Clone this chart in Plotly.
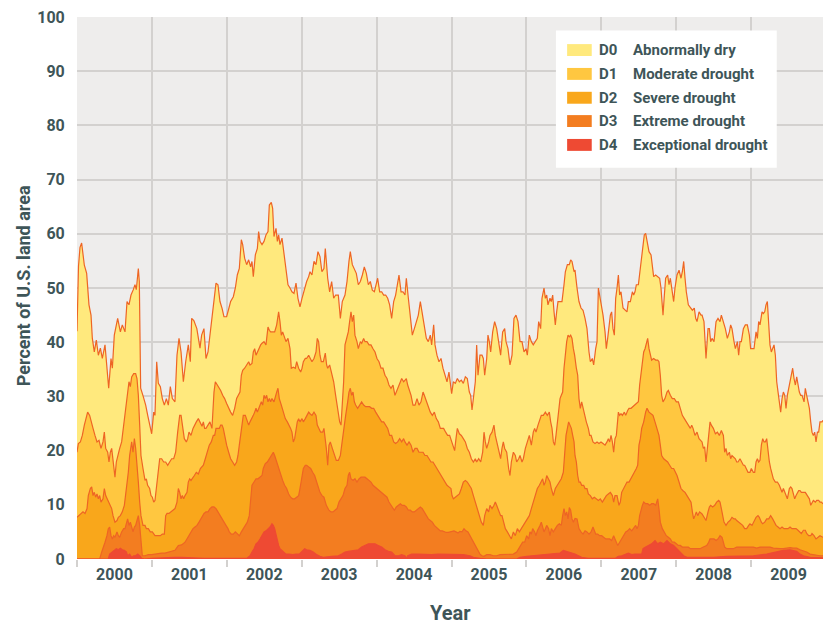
import plotly.graph_objects as go

# U.S. Drought Monitor, weekly share of land area in each drought category or worse
# (cumulative: D0 = D0-D4, D1 = D1-D4, ...). Time is given as decimal year.
d0 = [
    (2000.000, 42.0), (2000.020, 54.0), (2000.040, 57.5), (2000.062, 58.3), (2000.098, 54.2),
    (2000.129, 52.7), (2000.160, 46.9), (2000.187, 45.0), (2000.205, 40.7), (2000.231, 38.2),
    (2000.258, 40.4), (2000.285, 37.6), (2000.312, 38.9), (2000.338, 37.0), (2000.374, 39.5),
    (2000.400, 35.2), (2000.423, 31.5), (2000.454, 37.0), (2000.472, 35.2), (2000.498, 41.3),
    (2000.543, 44.4), (2000.579, 41.9), (2000.605, 43.2), (2000.641, 41.9), (2000.668, 47.5),
    (2000.694, 46.9), (2000.721, 48.7), (2000.752, 49.7), (2000.774, 50.6), (2000.792, 49.7),
    (2000.819, 53.6), (2000.832, 51.2), (2000.850, 31.5), (2000.886, 29.9), (2000.917, 28.4),
    (2000.944, 26.5), (2000.975, 24.1), (2000.997, 23.1), (2001.024, 27.1), (2001.041, 26.5),
    (2001.064, 36.4), (2001.086, 32.4), (2001.113, 31.8), (2001.139, 29.6), (2001.166, 28.4),
    (2001.193, 29.6), (2001.219, 28.4), (2001.246, 31.8), (2001.273, 29.6), (2001.308, 29.0),
    (2001.335, 37.6), (2001.362, 40.7), (2001.389, 38.2), (2001.420, 32.7), (2001.451, 36.4),
    (2001.486, 39.5), (2001.513, 36.4), (2001.531, 44.4), (2001.560, 44.0), (2001.600, 42.5),
    (2001.642, 38.9), (2001.664, 41.3), (2001.695, 42.5), (2001.722, 37.0), (2001.749, 38.2),
    (2001.766, 40.1), (2001.797, 43.8), (2001.829, 46.9), (2001.856, 50.9), (2001.882, 50.6),
    (2001.909, 47.5), (2001.936, 46.3), (2001.962, 44.7), (2001.998, 44.7), (2002.025, 46.3),
    (2002.051, 47.5), (2002.087, 48.4), (2002.114, 50.0), (2002.140, 52.4), (2002.167, 53.6),
    (2002.194, 58.9), (2002.212, 58.0), (2002.238, 55.5), (2002.265, 54.3), (2002.292, 55.2),
    (2002.318, 53.9), (2002.336, 54.9), (2002.354, 52.1), (2002.381, 56.1), (2002.408, 57.3),
    (2002.425, 60.4), (2002.443, 58.6), (2002.470, 58.0), (2002.497, 58.6), (2002.523, 59.8),
    (2002.550, 60.4), (2002.568, 65.3), (2002.594, 65.8), (2002.612, 64.7), (2002.630, 59.5),
    (2002.657, 61.0), (2002.675, 58.6), (2002.692, 59.8), (2002.710, 58.0), (2002.737, 59.2),
    (2002.764, 56.1), (2002.790, 53.6), (2002.817, 50.6), (2002.844, 50.0), (2002.870, 49.3),
    (2002.897, 49.0), (2002.924, 50.9), (2002.950, 48.1), (2002.977, 46.5), (2003.004, 48.1),
    (2003.040, 50.0), (2003.066, 51.2), (2003.093, 52.1), (2003.111, 53.0), (2003.137, 52.4),
    (2003.164, 54.9), (2003.191, 54.3), (2003.217, 56.7), (2003.244, 55.8), (2003.270, 53.0),
    (2003.297, 53.6), (2003.315, 57.3), (2003.347, 51.8), (2003.373, 49.3), (2003.400, 51.2),
    (2003.427, 48.1), (2003.453, 48.7), (2003.489, 48.7), (2003.516, 44.4), (2003.542, 47.5),
    (2003.578, 48.7), (2003.605, 51.2), (2003.631, 54.9), (2003.649, 56.7), (2003.676, 54.3),
    (2003.703, 53.3), (2003.729, 52.7), (2003.756, 50.6), (2003.783, 51.2), (2003.810, 52.4),
    (2003.836, 53.9), (2003.863, 52.7), (2003.890, 50.6), (2003.916, 51.2), (2003.943, 49.6),
    (2003.970, 49.3), (2004.014, 51.8), (2004.041, 49.3), (2004.068, 49.3), (2004.094, 48.7),
    (2004.121, 48.7), (2004.148, 48.1), (2004.174, 46.9), (2004.201, 44.4), (2004.228, 47.5),
    (2004.254, 48.7), (2004.281, 50.6), (2004.299, 52.4), (2004.326, 49.3), (2004.352, 49.3),
    (2004.379, 48.7), (2004.397, 51.8), (2004.424, 48.1), (2004.450, 44.4), (2004.477, 41.3),
    (2004.504, 42.5), (2004.530, 43.8), (2004.557, 45.0), (2004.584, 47.5), (2004.610, 45.0),
    (2004.637, 42.5), (2004.664, 40.7), (2004.690, 40.1), (2004.717, 41.3), (2004.735, 39.5),
    (2004.762, 43.2), (2004.780, 39.5), (2004.806, 37.6), (2004.833, 36.4), (2004.860, 37.0),
    (2004.886, 35.2), (2004.913, 33.9), (2004.940, 32.7), (2004.966, 34.5), (2004.993, 32.1),
    (2005.002, 30.5), (2005.025, 32.7), (2005.051, 32.4), (2005.078, 33.3), (2005.105, 32.7),
    (2005.131, 33.0), (2005.158, 32.4), (2005.185, 33.6), (2005.211, 33.3), (2005.238, 30.8),
    (2005.256, 30.2), (2005.274, 27.5), (2005.300, 30.2), (2005.318, 32.7), (2005.336, 39.5),
    (2005.354, 33.9), (2005.380, 37.6), (2005.407, 37.6), (2005.425, 37.0), (2005.443, 33.9),
    (2005.470, 37.0), (2005.487, 41.3), (2005.505, 40.1), (2005.523, 38.2), (2005.550, 41.9),
    (2005.576, 43.8), (2005.603, 42.5), (2005.630, 39.5), (2005.656, 37.6), (2005.683, 41.9),
    (2005.710, 42.5), (2005.728, 40.1), (2005.754, 38.8), (2005.781, 35.8), (2005.808, 37.6),
    (2005.834, 44.4), (2005.861, 45.0), (2005.888, 43.8), (2005.915, 40.1), (2005.941, 40.1),
    (2005.968, 38.2), (2005.995, 38.8), (2006.012, 37.6), (2006.039, 41.3), (2006.066, 40.1),
    (2006.092, 39.5), (2006.119, 40.1), (2006.146, 40.7), (2006.164, 43.8), (2006.190, 42.5),
    (2006.208, 48.1), (2006.235, 50.0), (2006.253, 48.1), (2006.271, 48.7), (2006.288, 46.9),
    (2006.315, 48.1), (2006.333, 47.5), (2006.351, 48.7), (2006.369, 45.6), (2006.386, 43.2),
    (2006.404, 45.6), (2006.422, 47.5), (2006.449, 47.5), (2006.475, 47.5), (2006.502, 50.6),
    (2006.520, 53.0), (2006.547, 54.3), (2006.573, 54.3), (2006.591, 55.2), (2006.609, 54.9),
    (2006.636, 53.0), (2006.649, 53.3), (2006.676, 50.0), (2006.702, 47.5), (2006.729, 46.3),
    (2006.756, 45.9), (2006.783, 44.4), (2006.809, 42.5), (2006.836, 38.2), (2006.854, 36.4),
    (2006.880, 37.0), (2006.898, 35.8), (2006.925, 38.8), (2006.943, 40.1), (2006.961, 50.0),
    (2006.978, 48.7), (2006.996, 46.9), (2007.023, 45.0), (2007.050, 41.9), (2007.067, 38.8),
    (2007.085, 40.7), (2007.103, 42.5), (2007.121, 45.0), (2007.138, 45.6), (2007.156, 42.5),
    (2007.174, 41.3), (2007.192, 48.1), (2007.210, 50.0), (2007.228, 52.4), (2007.245, 48.7),
    (2007.263, 49.3), (2007.290, 46.3), (2007.317, 45.9), (2007.343, 45.6), (2007.361, 47.5),
    (2007.388, 47.5), (2007.415, 49.3), (2007.432, 48.7), (2007.450, 49.3), (2007.468, 50.6),
    (2007.495, 50.6), (2007.512, 52.4), (2007.530, 54.9), (2007.557, 58.0), (2007.574, 59.8),
    (2007.592, 60.1), (2007.610, 58.6), (2007.637, 56.7), (2007.664, 56.1), (2007.681, 53.6),
    (2007.699, 52.1), (2007.726, 52.4), (2007.753, 52.1), (2007.779, 51.8), (2007.797, 50.0),
    (2007.824, 45.0), (2007.842, 48.7), (2007.859, 51.8), (2007.886, 52.4), (2007.904, 50.6),
    (2007.922, 51.8), (2007.948, 48.7), (2007.966, 47.5), (2007.984, 50.0), (2008.011, 52.4),
    (2008.038, 53.3), (2008.064, 51.8), (2008.082, 53.0), (2008.100, 54.9), (2008.118, 51.8),
    (2008.135, 49.3), (2008.162, 46.9), (2008.189, 46.3), (2008.216, 45.9), (2008.242, 46.3),
    (2008.260, 44.4), (2008.278, 43.8), (2008.305, 45.6), (2008.331, 45.0), (2008.345, 45.0),
    (2008.371, 43.8), (2008.398, 37.0), (2008.425, 42.5), (2008.443, 42.5), (2008.460, 40.1),
    (2008.478, 40.7), (2008.505, 40.1), (2008.532, 43.8), (2008.558, 44.4), (2008.585, 43.8),
    (2008.603, 45.0), (2008.630, 43.8), (2008.656, 42.5), (2008.683, 40.7), (2008.710, 41.9),
    (2008.727, 43.2), (2008.745, 42.5), (2008.772, 40.1), (2008.790, 38.8), (2008.817, 40.1),
    (2008.834, 37.6), (2008.852, 40.1), (2008.870, 40.1), (2008.897, 42.5), (2008.923, 43.2),
    (2008.950, 43.2), (2008.977, 41.3), (2008.994, 38.8), (2009.021, 38.8), (2009.039, 38.8),
    (2009.066, 41.9), (2009.084, 40.7), (2009.101, 43.8), (2009.119, 43.2), (2009.146, 45.6),
    (2009.164, 45.3), (2009.182, 45.6), (2009.199, 46.9), (2009.217, 47.5), (2009.235, 43.8),
    (2009.252, 39.5), (2009.270, 38.2), (2009.288, 38.8), (2009.306, 39.5), (2009.324, 37.6),
    (2009.342, 32.7), (2009.360, 30.8), (2009.377, 29.0), (2009.395, 27.1), (2009.413, 29.6),
    (2009.431, 30.8), (2009.449, 30.2), (2009.466, 27.8), (2009.484, 30.2), (2009.502, 31.5),
    (2009.520, 32.7), (2009.537, 34.5), (2009.555, 35.2), (2009.573, 33.3), (2009.591, 32.1),
    (2009.609, 33.6), (2009.626, 32.1), (2009.644, 30.8), (2009.662, 30.2), (2009.680, 30.2),
    (2009.707, 29.0), (2009.724, 31.5), (2009.742, 30.2), (2009.760, 29.0), (2009.778, 27.8),
    (2009.796, 25.3), (2009.813, 23.4), (2009.831, 22.8), (2009.849, 23.4), (2009.867, 21.6),
    (2009.885, 23.4), (2009.902, 23.4), (2009.920, 25.3), (2009.947, 25.3), (2009.960, 25.6),
]

d1 = [
    (2000.000, 19.7), (2000.018, 21.3), (2000.045, 21.6), (2000.071, 22.8), (2000.098, 24.7),
    (2000.125, 26.5), (2000.142, 27.1), (2000.169, 26.5), (2000.187, 25.3), (2000.214, 24.1),
    (2000.240, 22.8), (2000.267, 21.6), (2000.294, 21.9), (2000.320, 20.4), (2000.347, 21.6),
    (2000.365, 23.4), (2000.383, 20.4), (2000.410, 19.7), (2000.427, 17.9), (2000.445, 19.7),
    (2000.463, 20.4), (2000.481, 18.5), (2000.507, 15.1), (2000.525, 17.9), (2000.543, 19.1),
    (2000.570, 20.4), (2000.596, 21.6), (2000.623, 24.7), (2000.650, 27.1), (2000.676, 30.2),
    (2000.694, 32.7), (2000.712, 31.8), (2000.730, 33.6), (2000.757, 34.2), (2000.783, 34.2),
    (2000.801, 33.3), (2000.819, 30.2), (2000.837, 24.7), (2000.854, 19.1), (2000.881, 16.7),
    (2000.908, 14.5), (2000.926, 14.8), (2000.943, 13.6), (2000.970, 13.0), (2000.988, 11.7),
    (2001.006, 11.4), (2001.024, 10.5), (2001.041, 10.8), (2001.059, 13.0), (2001.077, 14.2),
    (2001.104, 18.5), (2001.130, 18.5), (2001.157, 17.9), (2001.184, 17.9), (2001.211, 17.3),
    (2001.237, 17.9), (2001.264, 18.5), (2001.291, 18.5), (2001.317, 19.7), (2001.344, 23.4),
    (2001.371, 26.5), (2001.389, 26.5), (2001.406, 24.7), (2001.433, 22.2), (2001.460, 21.6),
    (2001.478, 22.2), (2001.495, 23.4), (2001.522, 22.8), (2001.549, 24.1), (2001.567, 24.7),
    (2001.593, 25.3), (2001.620, 25.9), (2001.647, 25.0), (2001.669, 24.5), (2001.687, 25.3),
    (2001.704, 24.1), (2001.722, 24.1), (2001.749, 24.7), (2001.775, 25.3), (2001.802, 24.1),
    (2001.829, 30.8), (2001.847, 32.7), (2001.873, 32.1), (2001.891, 31.5), (2001.918, 31.1),
    (2001.945, 30.2), (2001.971, 29.6), (2001.998, 28.7), (2002.025, 27.8), (2002.051, 27.1),
    (2002.078, 26.5), (2002.105, 27.8), (2002.131, 29.6), (2002.158, 30.2), (2002.176, 30.8),
    (2002.194, 33.9), (2002.212, 34.8), (2002.238, 35.2), (2002.265, 35.8), (2002.292, 36.4),
    (2002.310, 35.8), (2002.336, 36.1), (2002.354, 38.2), (2002.372, 38.8), (2002.390, 37.6),
    (2002.408, 38.2), (2002.434, 38.8), (2002.452, 39.5), (2002.470, 39.8), (2002.497, 40.1),
    (2002.523, 39.5), (2002.550, 42.8), (2002.568, 42.2), (2002.585, 41.9), (2002.612, 41.9),
    (2002.639, 41.9), (2002.666, 43.2), (2002.692, 45.6), (2002.710, 43.8), (2002.728, 41.3),
    (2002.746, 41.9), (2002.772, 40.7), (2002.790, 40.1), (2002.817, 40.7), (2002.844, 38.8),
    (2002.861, 35.2), (2002.888, 35.4), (2002.915, 35.2), (2002.933, 36.4), (2002.959, 35.2),
    (2002.986, 34.5), (2003.004, 35.2), (2003.022, 36.4), (2003.048, 37.0), (2003.066, 37.0),
    (2003.093, 37.6), (2003.120, 37.0), (2003.137, 36.4), (2003.164, 37.0), (2003.191, 38.2),
    (2003.208, 40.7), (2003.226, 40.1), (2003.244, 37.6), (2003.262, 36.4), (2003.289, 36.4),
    (2003.315, 38.0), (2003.333, 35.8), (2003.347, 35.2), (2003.373, 35.8), (2003.400, 34.5),
    (2003.427, 32.7), (2003.453, 30.2), (2003.480, 27.8), (2003.507, 25.3), (2003.525, 24.7),
    (2003.542, 27.8), (2003.560, 32.7), (2003.578, 39.5), (2003.596, 40.7), (2003.622, 41.9),
    (2003.640, 43.8), (2003.658, 45.6), (2003.676, 43.8), (2003.694, 45.0), (2003.711, 41.3),
    (2003.738, 40.1), (2003.756, 38.8), (2003.783, 40.1), (2003.801, 39.8), (2003.827, 40.7),
    (2003.845, 40.1), (2003.872, 40.1), (2003.899, 39.5), (2003.925, 39.5), (2003.952, 38.8),
    (2003.979, 38.2), (2004.005, 37.0), (2004.032, 36.4), (2004.059, 35.2), (2004.085, 35.2),
    (2004.112, 33.9), (2004.139, 33.3), (2004.165, 32.1), (2004.192, 31.5), (2004.219, 32.1),
    (2004.245, 30.2), (2004.263, 30.8), (2004.290, 31.8), (2004.317, 32.7), (2004.335, 33.3),
    (2004.361, 32.7), (2004.379, 33.0), (2004.397, 33.3), (2004.415, 32.1), (2004.432, 31.5),
    (2004.460, 30.2), (2004.486, 28.4), (2004.513, 28.4), (2004.540, 29.6), (2004.566, 28.4),
    (2004.593, 29.0), (2004.620, 30.8), (2004.637, 30.2), (2004.664, 29.0), (2004.691, 27.8),
    (2004.717, 27.1), (2004.744, 26.5), (2004.771, 27.1), (2004.797, 25.9), (2004.824, 25.3),
    (2004.851, 24.1), (2004.877, 24.1), (2004.895, 24.1), (2004.922, 23.4), (2004.948, 22.8),
    (2004.975, 22.8), (2005.002, 21.6), (2005.025, 20.4), (2005.042, 20.0), (2005.060, 22.2),
    (2005.078, 24.1), (2005.105, 23.1), (2005.131, 22.8), (2005.158, 22.2), (2005.185, 21.6),
    (2005.211, 20.4), (2005.238, 19.7), (2005.265, 18.5), (2005.292, 17.9), (2005.318, 18.5),
    (2005.336, 17.9), (2005.363, 18.5), (2005.390, 17.9), (2005.416, 19.7), (2005.434, 23.4),
    (2005.452, 21.6), (2005.470, 20.4), (2005.496, 21.6), (2005.514, 22.8), (2005.541, 23.4),
    (2005.567, 24.7), (2005.585, 22.8), (2005.612, 21.0), (2005.639, 19.1), (2005.656, 18.5),
    (2005.674, 20.4), (2005.692, 21.6), (2005.710, 20.4), (2005.737, 19.7), (2005.763, 16.7),
    (2005.781, 15.4), (2005.799, 17.9), (2005.826, 19.7), (2005.852, 19.1), (2005.870, 17.9),
    (2005.897, 18.5), (2005.915, 19.1), (2005.941, 17.9), (2005.959, 18.5), (2005.986, 20.4),
    (2006.012, 21.6), (2006.039, 22.8), (2006.066, 21.0), (2006.092, 23.4), (2006.110, 24.1),
    (2006.128, 23.4), (2006.155, 24.7), (2006.173, 25.3), (2006.199, 26.5), (2006.226, 26.5),
    (2006.253, 27.1), (2006.279, 26.5), (2006.306, 27.1), (2006.324, 25.3), (2006.342, 24.1),
    (2006.360, 21.6), (2006.378, 21.0), (2006.395, 22.8), (2006.413, 25.3), (2006.431, 27.8),
    (2006.449, 29.6), (2006.466, 30.2), (2006.484, 30.8), (2006.502, 35.2), (2006.520, 38.2),
    (2006.538, 40.1), (2006.556, 41.3), (2006.573, 41.0), (2006.591, 41.3), (2006.609, 40.7),
    (2006.627, 38.8), (2006.644, 37.6), (2006.667, 35.2), (2006.685, 33.9), (2006.702, 29.6),
    (2006.720, 27.8), (2006.738, 29.0), (2006.756, 27.8), (2006.774, 26.5), (2006.800, 25.3),
    (2006.827, 24.1), (2006.845, 22.8), (2006.863, 22.8), (2006.889, 21.6), (2006.916, 21.3),
    (2006.943, 21.6), (2006.969, 21.3), (2006.996, 21.6), (2007.023, 21.3), (2007.050, 21.0),
    (2007.076, 21.6), (2007.094, 22.2), (2007.112, 21.6), (2007.130, 22.8), (2007.148, 21.6),
    (2007.165, 19.7), (2007.183, 22.2), (2007.201, 22.8), (2007.228, 27.1), (2007.245, 26.5),
    (2007.263, 26.8), (2007.281, 26.5), (2007.308, 27.1), (2007.326, 26.5), (2007.352, 27.4),
    (2007.370, 27.8), (2007.397, 27.8), (2007.424, 28.1), (2007.450, 28.4), (2007.477, 28.7),
    (2007.495, 29.0), (2007.512, 32.1), (2007.530, 34.5), (2007.548, 36.4), (2007.566, 38.2),
    (2007.584, 38.8), (2007.601, 39.8), (2007.619, 40.7), (2007.637, 38.8), (2007.655, 37.6),
    (2007.672, 36.7), (2007.699, 37.0), (2007.726, 36.7), (2007.753, 36.7), (2007.770, 36.4),
    (2007.788, 33.9), (2007.806, 30.2), (2007.824, 29.0), (2007.850, 29.6), (2007.877, 30.8),
    (2007.895, 31.1), (2007.922, 30.2), (2007.948, 29.6), (2007.975, 29.6), (2008.002, 29.0),
    (2008.029, 29.0), (2008.055, 27.8), (2008.082, 26.5), (2008.109, 25.9), (2008.135, 25.3),
    (2008.162, 24.7), (2008.189, 24.1), (2008.207, 24.7), (2008.225, 24.1), (2008.251, 22.8),
    (2008.278, 23.4), (2008.305, 22.2), (2008.345, 21.6), (2008.363, 20.4), (2008.380, 20.7),
    (2008.398, 17.9), (2008.416, 20.4), (2008.434, 22.2), (2008.452, 25.3), (2008.469, 24.7),
    (2008.496, 24.1), (2008.523, 23.1), (2008.550, 23.4), (2008.576, 22.8), (2008.603, 23.7),
    (2008.630, 22.8), (2008.647, 19.7), (2008.665, 20.4), (2008.683, 19.1), (2008.710, 19.7),
    (2008.727, 18.5), (2008.745, 19.1), (2008.763, 18.8), (2008.790, 18.5), (2008.808, 17.9),
    (2008.825, 17.9), (2008.852, 18.5), (2008.879, 17.9), (2008.897, 17.3), (2008.914, 17.3),
    (2008.932, 16.7), (2008.959, 16.0), (2008.985, 16.0), (2009.003, 16.7), (2009.030, 16.0),
    (2009.048, 16.0), (2009.066, 17.9), (2009.084, 18.5), (2009.101, 17.9), (2009.119, 18.2),
    (2009.137, 21.0), (2009.155, 22.2), (2009.173, 21.6), (2009.190, 21.6), (2009.208, 22.2),
    (2009.226, 19.7), (2009.244, 17.9), (2009.261, 16.7), (2009.279, 15.4), (2009.297, 14.8),
    (2009.324, 14.2), (2009.351, 14.2), (2009.377, 13.6), (2009.395, 13.0), (2009.413, 12.3),
    (2009.431, 13.0), (2009.449, 12.3), (2009.466, 11.7), (2009.484, 11.1), (2009.511, 13.0),
    (2009.529, 13.3), (2009.546, 13.0), (2009.564, 12.0), (2009.582, 11.1), (2009.600, 11.7),
    (2009.618, 12.3), (2009.635, 12.6), (2009.653, 12.6), (2009.671, 12.3), (2009.698, 12.3),
    (2009.724, 12.3), (2009.751, 11.7), (2009.778, 11.1), (2009.796, 9.9), (2009.813, 10.5),
    (2009.831, 10.8), (2009.858, 10.5), (2009.876, 10.8), (2009.902, 10.8), (2009.920, 10.5),
    (2009.938, 10.5), (2009.960, 10.2),
]

d2 = [
    (2000.000, 7.7), (2000.027, 8.0), (2000.053, 8.4), (2000.080, 8.7), (2000.107, 8.4),
    (2000.134, 9.3), (2000.151, 11.7), (2000.178, 13.0), (2000.196, 13.3), (2000.214, 11.7),
    (2000.231, 12.3), (2000.249, 11.4), (2000.267, 12.0), (2000.285, 11.1), (2000.303, 11.7),
    (2000.320, 10.5), (2000.347, 11.1), (2000.365, 13.0), (2000.383, 11.7), (2000.401, 11.1),
    (2000.418, 10.5), (2000.445, 9.9), (2000.463, 9.3), (2000.481, 8.0), (2000.507, 6.8),
    (2000.534, 7.1), (2000.552, 7.7), (2000.579, 8.0), (2000.605, 8.7), (2000.632, 9.9),
    (2000.650, 11.7), (2000.668, 13.6), (2000.685, 16.0), (2000.703, 19.1), (2000.721, 21.0),
    (2000.730, 21.6), (2000.748, 19.7), (2000.766, 22.2), (2000.783, 20.4), (2000.801, 17.9),
    (2000.819, 14.2), (2000.837, 10.5), (2000.854, 8.0), (2000.881, 6.2), (2000.908, 6.2),
    (2000.926, 5.6), (2000.952, 5.6), (2000.979, 5.0), (2001.006, 5.0), (2001.041, 4.3),
    (2001.077, 4.3), (2001.113, 4.3), (2001.139, 4.6), (2001.166, 4.6), (2001.184, 8.0),
    (2001.202, 8.4), (2001.228, 8.4), (2001.255, 8.7), (2001.282, 9.0), (2001.308, 9.3),
    (2001.335, 10.5), (2001.353, 13.0), (2001.371, 12.3), (2001.389, 11.1), (2001.406, 11.7),
    (2001.424, 11.1), (2001.442, 11.7), (2001.469, 12.3), (2001.486, 14.2), (2001.504, 14.8),
    (2001.522, 14.5), (2001.540, 14.8), (2001.567, 15.4), (2001.593, 16.0), (2001.620, 15.7),
    (2001.647, 16.7), (2001.669, 17.0), (2001.687, 17.3), (2001.713, 18.5), (2001.740, 19.7),
    (2001.766, 21.0), (2001.793, 21.6), (2001.820, 22.8), (2001.838, 22.8), (2001.856, 24.1),
    (2001.882, 24.1), (2001.900, 24.1), (2001.918, 24.7), (2001.936, 24.7), (2001.953, 24.1),
    (2001.971, 22.8), (2001.998, 21.0), (2002.025, 19.7), (2002.051, 18.5), (2002.078, 17.9),
    (2002.105, 17.3), (2002.131, 17.9), (2002.149, 19.1), (2002.167, 21.0), (2002.185, 22.8),
    (2002.203, 24.7), (2002.220, 26.5), (2002.247, 26.5), (2002.265, 25.9), (2002.292, 24.7),
    (2002.310, 25.3), (2002.336, 25.9), (2002.354, 26.5), (2002.372, 27.1), (2002.390, 27.8),
    (2002.408, 27.1), (2002.425, 27.8), (2002.443, 28.4), (2002.461, 29.0), (2002.479, 28.4),
    (2002.497, 30.2), (2002.514, 29.6), (2002.532, 30.2), (2002.550, 29.0), (2002.568, 29.6),
    (2002.585, 29.0), (2002.603, 29.6), (2002.630, 29.0), (2002.648, 30.2), (2002.666, 30.8),
    (2002.683, 31.5), (2002.701, 29.6), (2002.728, 28.4), (2002.755, 27.1), (2002.781, 25.9),
    (2002.808, 25.3), (2002.835, 24.7), (2002.852, 24.1), (2002.870, 23.4), (2002.888, 21.6),
    (2002.906, 22.2), (2002.924, 24.1), (2002.941, 25.3), (2002.959, 25.9), (2002.977, 25.3),
    (2003.004, 25.9), (2003.022, 25.3), (2003.048, 25.9), (2003.066, 26.5), (2003.093, 27.1),
    (2003.111, 26.8), (2003.137, 26.5), (2003.164, 27.1), (2003.191, 26.5), (2003.208, 24.7),
    (2003.226, 24.1), (2003.253, 23.4), (2003.280, 23.4), (2003.297, 24.1), (2003.329, 20.4),
    (2003.347, 17.3), (2003.364, 21.0), (2003.382, 21.6), (2003.409, 20.4), (2003.436, 19.1),
    (2003.462, 18.2), (2003.489, 18.2), (2003.516, 19.1), (2003.534, 21.0), (2003.560, 24.1),
    (2003.587, 26.5), (2003.614, 29.0), (2003.631, 30.8), (2003.649, 31.5), (2003.667, 30.2),
    (2003.685, 30.8), (2003.703, 29.0), (2003.720, 28.4), (2003.747, 27.8), (2003.774, 28.4),
    (2003.800, 29.0), (2003.827, 28.4), (2003.854, 28.1), (2003.881, 28.1), (2003.907, 28.1),
    (2003.934, 27.8), (2003.961, 27.8), (2003.988, 27.1), (2004.014, 26.5), (2004.041, 25.9),
    (2004.068, 25.3), (2004.094, 25.3), (2004.121, 24.7), (2004.148, 24.1), (2004.174, 22.8),
    (2004.201, 22.8), (2004.228, 21.6), (2004.254, 21.3), (2004.281, 21.6), (2004.308, 22.2),
    (2004.335, 21.6), (2004.361, 22.2), (2004.379, 21.6), (2004.406, 21.0), (2004.433, 21.6),
    (2004.460, 21.0), (2004.486, 19.7), (2004.513, 20.4), (2004.540, 20.4), (2004.566, 19.7),
    (2004.593, 19.7), (2004.620, 19.7), (2004.646, 19.1), (2004.673, 19.1), (2004.700, 18.5),
    (2004.726, 17.9), (2004.753, 17.9), (2004.780, 17.3), (2004.806, 16.7), (2004.833, 16.0),
    (2004.860, 15.4), (2004.886, 14.8), (2004.913, 14.2), (2004.940, 13.6), (2004.966, 13.3),
    (2004.993, 13.0), (2005.007, 11.7), (2005.025, 11.1), (2005.051, 11.4), (2005.078, 11.7),
    (2005.105, 12.0), (2005.131, 13.0), (2005.158, 14.2), (2005.185, 14.5), (2005.211, 14.2),
    (2005.238, 13.6), (2005.265, 13.0), (2005.292, 11.7), (2005.318, 10.5), (2005.345, 9.3),
    (2005.372, 8.0), (2005.398, 6.8), (2005.425, 6.2), (2005.443, 8.0), (2005.470, 9.3),
    (2005.496, 8.7), (2005.514, 9.9), (2005.541, 9.3), (2005.567, 9.9), (2005.585, 10.5),
    (2005.603, 9.9), (2005.630, 8.7), (2005.656, 8.0), (2005.674, 8.0), (2005.692, 6.8),
    (2005.719, 5.6), (2005.746, 5.0), (2005.772, 4.3), (2005.799, 3.7), (2005.826, 5.0),
    (2005.852, 4.3), (2005.879, 5.6), (2005.906, 5.0), (2005.932, 5.6), (2005.959, 6.2),
    (2005.986, 6.8), (2006.012, 7.4), (2006.039, 8.0), (2006.066, 9.3), (2006.092, 10.5),
    (2006.119, 11.7), (2006.146, 13.0), (2006.173, 13.6), (2006.199, 14.2), (2006.217, 14.8),
    (2006.235, 13.6), (2006.253, 14.2), (2006.271, 15.4), (2006.297, 14.8), (2006.315, 14.2),
    (2006.333, 13.0), (2006.360, 11.7), (2006.386, 13.0), (2006.413, 13.6), (2006.440, 14.2),
    (2006.466, 14.8), (2006.493, 16.0), (2006.511, 19.1), (2006.529, 22.8), (2006.547, 24.1),
    (2006.564, 25.3), (2006.582, 24.7), (2006.600, 24.1), (2006.618, 22.8), (2006.636, 21.6),
    (2006.649, 19.1), (2006.667, 17.9), (2006.685, 15.4), (2006.702, 14.2), (2006.720, 14.2),
    (2006.738, 13.6), (2006.765, 13.6), (2006.783, 13.0), (2006.809, 13.0), (2006.827, 12.0),
    (2006.854, 11.7), (2006.880, 11.1), (2006.907, 11.4), (2006.934, 11.1), (2006.961, 10.8),
    (2006.987, 11.1), (2007.014, 10.5), (2007.041, 11.1), (2007.067, 11.7), (2007.094, 12.0),
    (2007.121, 12.3), (2007.148, 11.7), (2007.165, 10.5), (2007.183, 11.7), (2007.210, 11.7),
    (2007.236, 9.9), (2007.254, 10.5), (2007.272, 12.3), (2007.299, 13.0), (2007.317, 13.6),
    (2007.343, 14.2), (2007.370, 14.2), (2007.397, 14.8), (2007.415, 15.4), (2007.441, 16.0),
    (2007.468, 16.7), (2007.486, 17.3), (2007.503, 21.0), (2007.521, 22.2), (2007.539, 24.1),
    (2007.566, 25.3), (2007.592, 27.1), (2007.610, 27.8), (2007.637, 27.1), (2007.664, 26.8),
    (2007.690, 26.5), (2007.717, 25.3), (2007.744, 24.1), (2007.770, 22.8), (2007.788, 21.0),
    (2007.806, 19.1), (2007.833, 18.5), (2007.859, 18.2), (2007.886, 17.9), (2007.913, 17.3),
    (2007.940, 16.7), (2007.966, 16.7), (2007.993, 16.0), (2008.011, 15.4), (2008.038, 14.2),
    (2008.064, 13.0), (2008.091, 12.6), (2008.118, 12.3), (2008.144, 11.7), (2008.171, 11.1),
    (2008.198, 10.5), (2008.216, 8.7), (2008.233, 7.4), (2008.251, 8.0), (2008.269, 8.7),
    (2008.287, 8.0), (2008.313, 8.7), (2008.345, 8.3), (2008.371, 7.7), (2008.398, 7.1),
    (2008.425, 8.7), (2008.443, 9.6), (2008.460, 9.9), (2008.487, 9.6), (2008.514, 9.9),
    (2008.540, 10.5), (2008.567, 10.8), (2008.585, 10.5), (2008.603, 9.3), (2008.621, 8.0),
    (2008.638, 6.8), (2008.665, 6.2), (2008.692, 6.8), (2008.718, 7.1), (2008.745, 7.7),
    (2008.772, 7.4), (2008.790, 7.4), (2008.808, 7.1), (2008.834, 6.8), (2008.861, 6.5),
    (2008.888, 6.2), (2008.914, 5.6), (2008.941, 5.6), (2008.968, 6.2), (2008.985, 6.5),
    (2009.012, 6.2), (2009.039, 7.1), (2009.066, 7.7), (2009.092, 8.0), (2009.110, 7.7),
    (2009.137, 6.8), (2009.155, 6.5), (2009.182, 6.8), (2009.208, 7.4), (2009.235, 7.4),
    (2009.261, 8.0), (2009.288, 7.4), (2009.306, 6.8), (2009.333, 6.2), (2009.360, 5.9),
    (2009.386, 5.6), (2009.413, 5.9), (2009.440, 5.6), (2009.466, 5.6), (2009.493, 5.6),
    (2009.520, 5.9), (2009.546, 5.6), (2009.573, 5.6), (2009.600, 5.6), (2009.626, 5.3),
    (2009.653, 5.0), (2009.671, 4.7), (2009.698, 5.3), (2009.724, 5.3), (2009.742, 4.7),
    (2009.769, 4.3), (2009.796, 4.3), (2009.813, 4.7), (2009.840, 4.3), (2009.867, 3.7),
    (2009.894, 4.0), (2009.920, 4.3), (2009.960, 4.0),
]

d3 = [
    (2000.000, 0.0), (2000.303, 0.0), (2000.330, 1.3), (2000.356, 2.2), (2000.374, 3.1),
    (2000.400, 4.3), (2000.418, 5.6), (2000.436, 5.9), (2000.454, 4.3), (2000.472, 3.7),
    (2000.490, 4.3), (2000.507, 4.0), (2000.534, 5.0), (2000.552, 4.3), (2000.570, 4.0),
    (2000.596, 5.0), (2000.623, 5.6), (2000.641, 5.6), (2000.659, 6.8), (2000.676, 7.4),
    (2000.694, 6.2), (2000.712, 6.8), (2000.730, 5.9), (2000.748, 5.0), (2000.766, 5.9),
    (2000.783, 6.2), (2000.801, 7.1), (2000.819, 8.0), (2000.837, 6.2), (2000.854, 3.1),
    (2000.872, 0.6), (2000.908, 0.6), (2000.952, 0.8), (2000.997, 0.8), (2001.041, 0.9),
    (2001.086, 1.1), (2001.130, 1.1), (2001.175, 1.1), (2001.219, 1.3), (2001.264, 1.4),
    (2001.308, 1.6), (2001.353, 2.5), (2001.397, 2.6), (2001.442, 3.1), (2001.469, 3.7),
    (2001.495, 4.3), (2001.522, 5.0), (2001.549, 5.6), (2001.575, 5.9), (2001.602, 6.2),
    (2001.629, 6.8), (2001.669, 7.7), (2001.696, 8.4), (2001.722, 8.7), (2001.749, 8.7),
    (2001.775, 9.3), (2001.802, 9.6), (2001.829, 9.6), (2001.856, 9.3), (2001.882, 8.7),
    (2001.909, 8.0), (2001.936, 7.4), (2001.962, 6.8), (2001.989, 6.2), (2002.016, 5.6),
    (2002.034, 5.0), (2002.060, 4.6), (2002.087, 4.6), (2002.114, 5.0), (2002.140, 4.6),
    (2002.167, 4.3), (2002.194, 5.0), (2002.220, 5.6), (2002.247, 6.2), (2002.274, 6.8),
    (2002.300, 8.0), (2002.318, 11.7), (2002.336, 13.6), (2002.363, 14.2), (2002.390, 14.8),
    (2002.416, 14.8), (2002.443, 15.1), (2002.470, 15.4), (2002.487, 16.7), (2002.514, 17.6),
    (2002.541, 17.9), (2002.568, 18.5), (2002.594, 19.1), (2002.621, 19.7), (2002.639, 19.1),
    (2002.666, 17.9), (2002.692, 16.7), (2002.719, 15.4), (2002.746, 14.5), (2002.772, 13.6),
    (2002.799, 13.0), (2002.826, 12.0), (2002.852, 11.4), (2002.879, 11.1), (2002.906, 11.1),
    (2002.933, 11.4), (2002.959, 11.7), (2002.977, 13.0), (2002.995, 14.8), (2003.022, 16.7),
    (2003.048, 17.3), (2003.066, 17.3), (2003.093, 17.0), (2003.120, 16.7), (2003.146, 16.0),
    (2003.173, 15.4), (2003.200, 14.2), (2003.226, 13.0), (2003.244, 12.3), (2003.271, 11.7),
    (2003.297, 11.4), (2003.329, 9.9), (2003.364, 9.0), (2003.391, 8.7), (2003.418, 8.7),
    (2003.444, 9.0), (2003.471, 9.3), (2003.498, 10.5), (2003.525, 11.1), (2003.551, 11.7),
    (2003.578, 13.0), (2003.605, 13.6), (2003.622, 15.4), (2003.640, 16.0), (2003.658, 14.8),
    (2003.685, 14.5), (2003.711, 14.8), (2003.738, 14.2), (2003.765, 14.8), (2003.792, 15.1),
    (2003.818, 15.1), (2003.845, 15.1), (2003.872, 14.8), (2003.899, 14.5), (2003.925, 14.2),
    (2003.952, 13.6), (2003.979, 13.3), (2004.005, 13.0), (2004.032, 12.6), (2004.059, 12.3),
    (2004.085, 12.0), (2004.112, 11.7), (2004.139, 11.4), (2004.165, 10.5), (2004.192, 9.9),
    (2004.219, 9.3), (2004.237, 9.0), (2004.263, 9.6), (2004.290, 9.9), (2004.317, 10.2),
    (2004.343, 9.9), (2004.370, 9.9), (2004.397, 9.6), (2004.424, 9.0), (2004.450, 9.0),
    (2004.477, 8.7), (2004.504, 8.7), (2004.530, 9.0), (2004.557, 9.3), (2004.584, 9.6),
    (2004.610, 9.3), (2004.637, 8.7), (2004.664, 8.0), (2004.691, 7.4), (2004.717, 7.1),
    (2004.744, 6.8), (2004.771, 6.2), (2004.797, 5.9), (2004.824, 5.6), (2004.851, 5.2),
    (2004.877, 5.2), (2004.904, 5.0), (2004.931, 4.9), (2004.957, 4.9), (2004.984, 5.0),
    (2005.007, 5.0), (2005.033, 5.2), (2005.060, 5.0), (2005.087, 4.8), (2005.113, 5.1),
    (2005.140, 5.0), (2005.167, 5.6), (2005.193, 5.2), (2005.220, 5.0), (2005.247, 4.3),
    (2005.274, 3.7), (2005.300, 3.1), (2005.327, 2.2), (2005.354, 1.6), (2005.380, 0.9),
    (2005.407, 0.6), (2005.434, 0.5), (2005.470, 0.8), (2005.514, 0.8), (2005.558, 0.6),
    (2005.603, 0.6), (2005.648, 0.8), (2005.692, 0.8), (2005.737, 0.8), (2005.781, 0.9),
    (2005.826, 0.9), (2005.870, 1.3), (2005.897, 1.9), (2005.923, 2.5), (2005.950, 3.1),
    (2005.977, 3.1), (2006.004, 4.3), (2006.030, 3.7), (2006.048, 5.0), (2006.066, 4.6),
    (2006.084, 5.6), (2006.110, 5.0), (2006.128, 4.3), (2006.146, 5.2), (2006.164, 5.6),
    (2006.182, 6.2), (2006.199, 6.8), (2006.217, 5.6), (2006.235, 5.0), (2006.253, 5.6),
    (2006.271, 6.2), (2006.297, 5.6), (2006.315, 4.3), (2006.333, 5.6), (2006.360, 5.0),
    (2006.386, 5.6), (2006.413, 6.2), (2006.440, 6.5), (2006.466, 6.2), (2006.484, 8.0),
    (2006.502, 9.3), (2006.520, 8.0), (2006.538, 8.7), (2006.556, 7.4), (2006.573, 9.5),
    (2006.591, 9.0), (2006.609, 7.4), (2006.627, 6.8), (2006.649, 7.5), (2006.676, 7.4),
    (2006.702, 5.6), (2006.729, 5.0), (2006.756, 4.6), (2006.783, 5.2), (2006.809, 5.0),
    (2006.836, 4.6), (2006.863, 5.0), (2006.889, 5.9), (2006.907, 5.0), (2006.925, 4.6),
    (2006.952, 4.6), (2006.978, 4.3), (2007.005, 4.3), (2007.032, 4.0), (2007.059, 3.7),
    (2007.085, 3.7), (2007.112, 3.7), (2007.138, 3.4), (2007.165, 4.3), (2007.183, 3.7),
    (2007.201, 3.1), (2007.219, 2.5), (2007.245, 3.1), (2007.272, 3.7), (2007.299, 4.3),
    (2007.326, 5.0), (2007.352, 5.2), (2007.379, 5.6), (2007.406, 5.2), (2007.432, 5.6),
    (2007.459, 6.2), (2007.477, 5.6), (2007.495, 6.2), (2007.512, 8.0), (2007.530, 9.3),
    (2007.548, 9.9), (2007.566, 10.5), (2007.592, 10.2), (2007.619, 10.2), (2007.646, 9.9),
    (2007.672, 10.2), (2007.699, 10.2), (2007.726, 9.9), (2007.753, 11.1), (2007.770, 9.3),
    (2007.788, 6.8), (2007.815, 5.6), (2007.842, 5.0), (2007.868, 4.3), (2007.895, 4.0),
    (2007.922, 3.7), (2007.948, 3.1), (2007.975, 3.1), (2008.002, 2.8), (2008.029, 2.5),
    (2008.055, 2.5), (2008.082, 2.2), (2008.109, 2.2), (2008.135, 2.2), (2008.162, 2.2),
    (2008.189, 1.9), (2008.216, 1.9), (2008.242, 1.9), (2008.269, 2.0), (2008.295, 2.0),
    (2008.318, 1.9), (2008.362, 2.2), (2008.407, 2.5), (2008.434, 3.1), (2008.452, 3.7),
    (2008.478, 3.7), (2008.505, 3.7), (2008.532, 3.4), (2008.558, 3.7), (2008.585, 4.3),
    (2008.612, 4.0), (2008.630, 3.1), (2008.647, 2.2), (2008.674, 1.9), (2008.718, 1.9),
    (2008.763, 1.9), (2008.808, 2.2), (2008.852, 2.2), (2008.897, 2.2), (2008.941, 2.2),
    (2008.985, 2.2), (2009.030, 2.2), (2009.075, 2.0), (2009.119, 2.2), (2009.164, 2.2),
    (2009.208, 2.2), (2009.253, 2.2), (2009.297, 2.0), (2009.342, 1.9), (2009.386, 1.9),
    (2009.431, 1.9), (2009.475, 2.0), (2009.520, 2.1), (2009.564, 2.0), (2009.609, 2.0),
    (2009.653, 1.7), (2009.698, 1.5), (2009.742, 1.3), (2009.787, 0.9), (2009.831, 0.8),
    (2009.876, 0.6), (2009.920, 0.6), (2009.960, 0.6),
]

d4 = [
    (2000.000, 0.0), (2000.418, 0.0), (2000.436, 0.9), (2000.472, 1.3), (2000.498, 1.6),
    (2000.525, 1.9), (2000.552, 1.7), (2000.579, 2.0), (2000.605, 1.7), (2000.632, 1.6),
    (2000.659, 1.3), (2000.676, 0.6), (2000.703, 0.9), (2000.730, 0.3), (2000.757, 0.6),
    (2000.783, 0.6), (2000.810, 0.9), (2000.837, 0.6), (2000.863, 0.1), (2000.900, 0.0),
    (2001.000, 0.1), (2001.100, 0.2), (2001.200, 0.3), (2001.300, 0.3), (2001.400, 0.3),
    (2001.500, 0.2), (2001.600, 0.1), (2001.700, 0.1), (2002.265, 0.1), (2002.310, 0.6),
    (2002.336, 1.3), (2002.363, 1.9), (2002.390, 2.8), (2002.416, 3.1), (2002.443, 3.7),
    (2002.470, 4.3), (2002.497, 5.0), (2002.523, 5.2), (2002.550, 5.6), (2002.577, 5.9),
    (2002.603, 6.5), (2002.621, 6.2), (2002.639, 5.6), (2002.657, 4.3), (2002.674, 3.1),
    (2002.692, 2.5), (2002.710, 1.9), (2002.737, 1.6), (2002.764, 1.3), (2002.790, 0.9),
    (2002.835, 0.9), (2002.879, 0.8), (2002.924, 0.9), (2002.968, 0.9), (2003.004, 1.4),
    (2003.040, 1.9), (2003.066, 1.7), (2003.111, 1.6), (2003.155, 1.3), (2003.200, 0.8),
    (2003.244, 0.5), (2003.289, 0.3), (2003.400, 0.5), (2003.489, 0.6), (2003.534, 0.9),
    (2003.578, 1.3), (2003.622, 1.4), (2003.667, 1.5), (2003.711, 1.6), (2003.756, 1.7),
    (2003.800, 2.2), (2003.845, 2.5), (2003.890, 2.8), (2003.934, 2.8), (2003.979, 2.8),
    (2004.023, 2.5), (2004.068, 2.2), (2004.112, 1.7), (2004.157, 1.4), (2004.201, 1.3),
    (2004.245, 0.6), (2004.290, 0.6), (2004.334, 0.8), (2004.379, 0.6), (2004.397, 0.1),
    (2004.415, 0.6), (2004.468, 0.9), (2004.557, 0.9), (2004.646, 0.8), (2004.735, 0.8),
    (2004.824, 0.9), (2004.913, 0.9), (2005.007, 0.8), (2005.069, 0.9), (2005.158, 0.8),
    (2005.247, 0.6), (2005.292, 0.3), (2005.380, 0.1), (2005.470, 0.0), (2005.870, 0.0),
    (2005.915, 0.3), (2006.004, 0.5), (2006.093, 0.6), (2006.182, 0.8), (2006.271, 0.9),
    (2006.360, 0.9), (2006.449, 1.1), (2006.493, 1.6), (2006.538, 1.4), (2006.582, 1.3),
    (2006.627, 1.1), (2006.649, 0.9), (2006.738, 0.3), (2006.827, 0.1), (2007.183, 0.1),
    (2007.227, 0.5), (2007.272, 0.6), (2007.316, 0.9), (2007.361, 1.1), (2007.406, 0.8),
    (2007.450, 0.9), (2007.539, 0.9), (2007.557, 1.9), (2007.592, 2.2), (2007.628, 2.5),
    (2007.672, 2.8), (2007.717, 3.4), (2007.753, 2.8), (2007.788, 3.1), (2007.833, 2.8),
    (2007.877, 3.4), (2007.922, 2.8), (2007.966, 2.5), (2008.011, 1.9), (2008.055, 1.3),
    (2008.100, 0.6), (2008.144, 0.3), (2008.318, 0.3), (2008.496, 0.3), (2008.674, 0.5),
    (2008.852, 0.6), (2009.030, 0.6), (2009.208, 0.9), (2009.342, 1.3), (2009.430, 1.6),
    (2009.520, 1.7), (2009.609, 1.4), (2009.653, 0.9), (2009.698, 0.6), (2009.787, 0.3),
    (2009.960, 0.2),
]

codes = ["D0", "D1", "D2", "D3", "D4"]
names = ["Abnormally dry", "Moderate drought", "Severe drought",
         "Extreme drought", "Exceptional drought"]
years = list(range(2000, 2010))
y_ticks = list(range(0, 101, 10))

series = [d0, d1, d2, d3, d4]
fills = ["#FFE97D", "#FFC740", "#F9A71B", "#F37D20", "#EE4A33"]
EDGE = "#EE6524"
TEXT = "#3E5558"
GRID = "#D3D1CF"
FONT = "Roboto, Liberation Sans, sans-serif"

fig = go.Figure()

# Each category is filled from zero, drawn from the widest (D0) to the narrowest (D4),
# so the bands stack visually.
for code, name, pts, color in zip(codes, names, series, fills):
    t = [p[0] for p in pts]
    v = [p[1] for p in pts]
    fig.add_trace(go.Scatter(
        x=t, y=v, mode="lines", name=f"{code} {name}",
        fill="tozeroy", fillcolor=color,
        line=dict(color=EDGE if code != "D4" else color, width=1.2),
        hoverinfo="x+y+name",
    ))

# Legend box drawn in the upper right of the plot area
shapes = [dict(type="rect", xref="paper", yref="paper",
               x0=0.642, x1=0.938, y0=0.722, y1=0.975,
               fillcolor="white", line=dict(width=0), layer="above")]
annotations = []
row_y = [0.939, 0.895, 0.851, 0.808, 0.764]
for code, name, color, yy in zip(codes, names, fills, row_y):
    shapes.append(dict(type="rect", xref="paper", yref="paper",
                       x0=0.657, x1=0.690, y0=yy - 0.011, y1=yy + 0.011,
                       fillcolor=color, line=dict(width=0), layer="above"))
    annotations.append(dict(xref="paper", yref="paper", x=0.697, y=yy,
                            text=f"<b>{code}</b>", showarrow=False,
                            xanchor="left", yanchor="middle",
                            font=dict(size=15, color=TEXT, family=FONT)))
    annotations.append(dict(xref="paper", yref="paper", x=0.7425, y=yy,
                            text=f"<b>{name}</b>", showarrow=False,
                            xanchor="left", yanchor="middle",
                            font=dict(size=15, color=TEXT, family=FONT)))

# Axis titles
annotations.append(dict(xref="paper", yref="paper", x=0.5013, y=-0.099,
                        text="<b>Year</b>", showarrow=False,
                        xanchor="center", yanchor="middle",
                        font=dict(size=20, color=TEXT, family=FONT)))
annotations.append(dict(xref="paper", yref="paper", x=-0.0725, y=0.505,
                        text="<b>Percent of U.S. land area</b>", showarrow=False,
                        textangle=-90, xanchor="center", yanchor="middle",
                        font=dict(size=18, color=TEXT, family=FONT)))

fig.update_layout(
    width=823, height=627,
    margin=dict(l=77, r=0, t=17, b=68),
    paper_bgcolor="white",
    plot_bgcolor="#EEEDEC",
    showlegend=False,
    font=dict(family=FONT, color=TEXT),
    shapes=shapes,
    annotations=annotations,
    xaxis=dict(
        range=[2000, 2009.96],
        tickvals=[y + 0.5 for y in years],
        ticktext=[f"<b>{y}</b>" for y in years],
        tickfont=dict(size=16, color=TEXT, family=FONT),
        ticks="outside", ticklen=1, tickcolor="rgba(0,0,0,0)",
        showgrid=False, zeroline=False, showline=False,
        minor=dict(tickvals=years, showgrid=True, gridcolor=GRID, gridwidth=2,
                   ticks="outside", ticklen=7, tickcolor=GRID, tickwidth=2),
        layer="below traces",
    ),
    yaxis=dict(
        range=[0, 100],
        tickvals=y_ticks,
        ticktext=[f"<b>{v}</b>" for v in y_ticks],
        tickfont=dict(size=16, color=TEXT, family=FONT),
        ticks="outside", ticklen=8, tickcolor="rgba(0,0,0,0)",
        showgrid=True, gridcolor=GRID, gridwidth=2,
        zeroline=False, showline=False,
    ),
)

fig.write_html("out.html")
